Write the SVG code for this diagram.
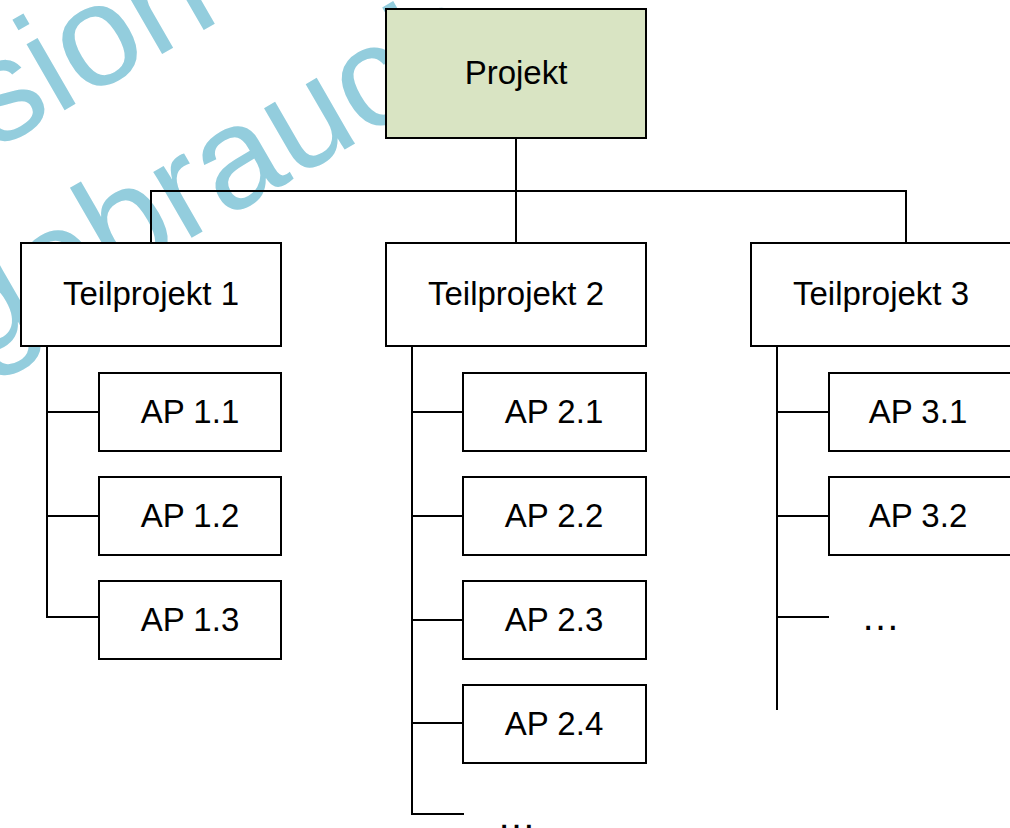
<svg xmlns="http://www.w3.org/2000/svg" width="1010" height="828" viewBox="0 0 1010 828">
<style>
.bg{fill:#ffffff}
.wm{font-family:"Liberation Sans",Arial,sans-serif;font-size:144px;fill:#93CDDD}
.box{fill:#ffffff;stroke:#000000;stroke-width:2}
.root{fill:#D9E4C3;stroke:#000000;stroke-width:2}
.lbl{font-family:"Liberation Sans",Arial,sans-serif;font-size:33px;fill:#000000;text-anchor:middle}
.dots{font-family:"Liberation Sans",Arial,sans-serif;font-size:39px;fill:#000000}
.con{fill:none;stroke:#000000;stroke-width:2}
</style>
<rect class="bg" x="0" y="0" width="1010" height="828"/>
<g id="watermark">
<text class="wm" x="-6" y="151" transform="rotate(-30 -6 151)">sion</text>
<text class="wm" x="-25" y="363" transform="rotate(-30 -25 363)">gebrauch</text>
</g>
<g id="connectors">
<path class="con" d="M516 138V243"/>
<path class="con" d="M151 243V191H906V243"/>
<path class="con" d="M47 346V617H99M47 412H99M47 516H99"/>
<path class="con" d="M412 346V814H464M412 412H463M412 516H463M412 620H463M412 723H463"/>
<path class="con" d="M777 346V710M777 412H829M777 516H829M777 617H829"/>
</g>
<g id="projekt"><rect class="root" x="386" y="9" width="260" height="129"/><text class="lbl" x="516" y="84">Projekt</text></g>
<g id="tp1"><rect class="box" x="21" y="243" width="260" height="103"/><text class="lbl" x="151" y="305">Teilprojekt 1</text></g>
<g id="tp2"><rect class="box" x="386" y="243" width="260" height="103"/><text class="lbl" x="516" y="305">Teilprojekt 2</text></g>
<g id="tp3"><rect class="box" x="751" y="243" width="260" height="103"/><text class="lbl" x="881" y="305">Teilprojekt 3</text></g>
<g id="ap11"><rect class="box" x="99" y="373" width="182" height="78"/><text class="lbl" x="190" y="423">AP 1.1</text></g>
<g id="ap12"><rect class="box" x="99" y="477" width="182" height="78"/><text class="lbl" x="190" y="527">AP 1.2</text></g>
<g id="ap13"><rect class="box" x="99" y="581" width="182" height="78"/><text class="lbl" x="190" y="631">AP 1.3</text></g>
<g id="ap21"><rect class="box" x="463" y="373" width="183" height="78"/><text class="lbl" x="554" y="423">AP 2.1</text></g>
<g id="ap22"><rect class="box" x="463" y="477" width="183" height="78"/><text class="lbl" x="554" y="527">AP 2.2</text></g>
<g id="ap23"><rect class="box" x="463" y="581" width="183" height="78"/><text class="lbl" x="554" y="631">AP 2.3</text></g>
<g id="ap24"><rect class="box" x="463" y="685" width="183" height="78"/><text class="lbl" x="554" y="735">AP 2.4</text></g>
<g id="ap2x"><text class="dots" x="497" y="829">…</text></g>
<g id="ap31"><rect class="box" x="829" y="373" width="182" height="78"/><text class="lbl" x="918" y="423">AP 3.1</text></g>
<g id="ap32"><rect class="box" x="829" y="477" width="182" height="78"/><text class="lbl" x="918" y="527">AP 3.2</text></g>
<g id="ap3x"><text class="dots" x="861" y="630">…</text></g>
</svg>
